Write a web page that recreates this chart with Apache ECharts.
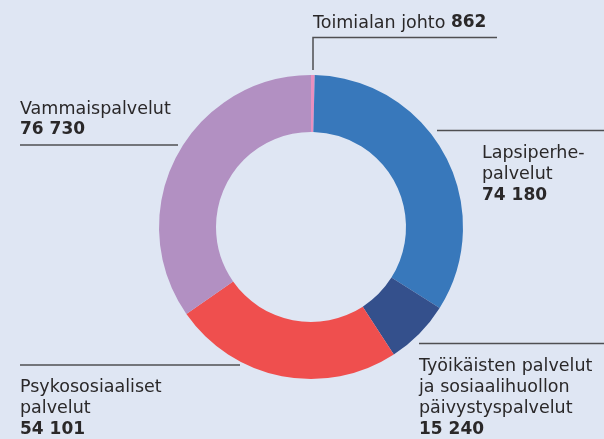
<!DOCTYPE html>
<html>
<head>
<meta charset="utf-8">
<script src="https://cdn.jsdelivr.net/npm/echarts@6/dist/echarts.min.js"></script>
<style>
  html, body { margin: 0; padding: 0; background: #dfe6f3; }
  #main { width: 604px; height: 439px; }
</style>
</head>
<body>
<div id="main"></div>
<script>
// data
var names = ['Toimialan johto', 'Lapsiperhe-\npalvelut', 'Työikäisten palvelut\nja sosiaalihuollon\npäivystyspalvelut', 'Psykososiaaliset\npalvelut', 'Vammaispalvelut'];
var values = [862, 74180, 15240, 54101, 76730];
var colors = ['#e890bf', '#3878bb', '#34508c', '#ef4f4e', '#b290c2'];

// label placement (text top-left + leader line)
var labelPos = [
  { x: 313, y: 12.5, line: [[313, 70], [313, 37.5], [497, 37.5]], inline: true },
  { x: 482, y: 143, line: [[437, 130.5], [604, 130.5]] },
  { x: 419, y: 356, line: [[419, 343.5], [604, 343.5]] },
  { x: 20, y: 377, line: [[20, 365], [240, 365]] },
  { x: 20, y: 98.5, line: [[20, 145], [178, 145]] }
];

function fmt(v) {
  return String(v).replace(/\B(?=(\d{3})+(?!\d))/g, ' ');
}

var chart = echarts.init(document.getElementById('main'));

var graphics = [];
for (let i = 0; i < names.length; i++) {
  var p = labelPos[i];
  graphics.push({
    type: 'polyline',
    silent: true,
    shape: { points: p.line },
    style: { stroke: '#4f4f52', lineWidth: 1.5, fill: null }
  });
  var txt;
  if (p.inline) {
    txt = '{n|' + names[i] + ' }{v|' + fmt(values[i]) + '}';
  } else {
    txt = names[i].split('\n').map(function (s) { return '{n|' + s + '}'; }).join('\n') + '\n{v|' + fmt(values[i]) + '}';
  }
  graphics.push({
    type: 'text',
    silent: true,
    x: p.x,
    y: p.y,
    style: {
      text: txt,
      align: 'left',
      verticalAlign: 'top',
      rich: {
        n: { font: '17.5px "DejaVu Sans"', fill: '#2a2829', lineHeight: 21 },
        v: { font: 'bold 17px "DejaVu Sans"', fill: '#2a2829', lineHeight: 21 }
      }
    }
  });
}

chart.setOption({
  backgroundColor: '#dfe6f3',
  animation: false,
  color: colors,
  series: [
    {
      type: 'pie',
      center: [311, 227],
      radius: [95, 152],
      startAngle: 90,
      clockwise: true,
      silent: true,
      label: { show: false },
      labelLine: { show: false },
      itemStyle: { borderWidth: 0 },
      data: names.map(function (n, i) { return { name: n, value: values[i] }; })
    }
  ],
  graphic: graphics
});
</script>
</body>
</html>
